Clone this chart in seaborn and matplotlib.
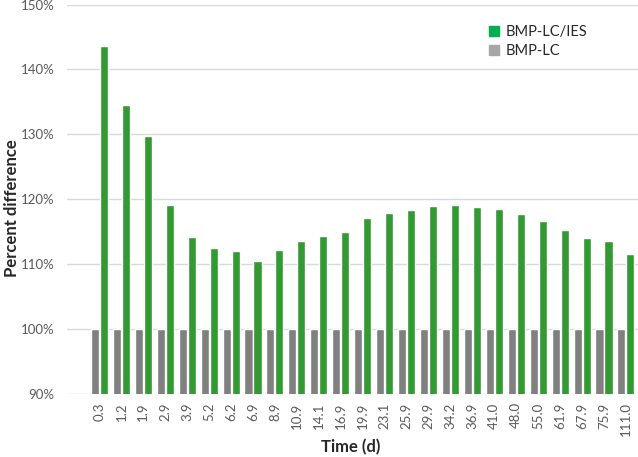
import numpy as np
import pandas as pd
import matplotlib
matplotlib.use("Agg")
import matplotlib.pyplot as plt
import seaborn as sns
from matplotlib.ticker import PercentFormatter
from matplotlib.patches import Patch

# Data
times = ["0.3", "1.2", "1.9", "2.9", "3.9", "5.2", "6.2", "6.9", "8.9", "10.9",
         "14.1", "16.9", "19.9", "23.1", "25.9", "29.9", "34.2", "36.9", "41.0",
         "48.0", "55.0", "61.9", "67.9", "75.9", "111.0"]
bmp_lc_ies = [143.6, 134.5, 129.7, 119.1, 114.2, 112.5, 112.0, 110.5, 112.2, 113.5,
              114.3, 115.0, 117.1, 117.9, 118.3, 118.9, 119.1, 118.8, 118.5,
              117.7, 116.7, 115.2, 114.0, 113.5, 111.6]
bmp_lc = [100.0] * len(times)

df = pd.DataFrame({
    "time": times * 2,
    "value": bmp_lc + bmp_lc_ies,
    "series": ["BMP-LC"] * len(times) + ["BMP-LC/IES"] * len(times),
})

sns.set_style("white")
plt.rcParams['font.family'] = ['Lato', 'DejaVu Sans']

fig, ax = plt.subplots(figsize=(6.38, 4.57), dpi=100)
colors = {"BMP-LC": "#808080", "BMP-LC/IES": "#339933"}
sns.barplot(data=df, x="time", y="value", hue="series", hue_order=["BMP-LC", "BMP-LC/IES"],
            palette=colors, width=0.82, gap=0.1, ax=ax, legend=False, saturation=1)

ax.set_ylim(90, 150)
ax.set_yticks(np.arange(90, 151, 10))
ax.yaxis.set_major_formatter(PercentFormatter(decimals=0))
ax.grid(axis="y", color="#d9d9d9", linewidth=1)
ax.set_axisbelow(True)
for s in ax.spines.values():
    s.set_visible(False)
ax.set_xlim(-1.48, len(times) - 0.45)

ax.tick_params(axis="x", labelrotation=90, labelsize=9.5, colors="#595959", length=0, pad=6)
ax.tick_params(axis="y", labelsize=9.5, colors="#595959", length=0, pad=9)

ax.set_xlabel("")
ax.set_ylabel("")
fig.text(0.55, 0.022, "Time (d)", fontsize=12, fontweight="bold", ha="center", va="center")
fig.text(0.019, 0.545, "Percent difference", fontsize=12, fontweight="bold",
         rotation=90, ha="center", va="center")

handles = [Patch(color="#00b050", label="BMP-LC/IES"), Patch(color="#a6a6a6", label="BMP-LC")]
ax.legend(handles=handles, loc="upper right", bbox_to_anchor=(0.935, 0.98), frameon=False,
          fontsize=10.5, handlelength=0.7, handleheight=0.7, handletextpad=0.5,
          labelspacing=0.3)

plt.subplots_adjust(left=0.105, right=1.0, top=0.99, bottom=0.138)
plt.savefig("out.png", dpi=100)
